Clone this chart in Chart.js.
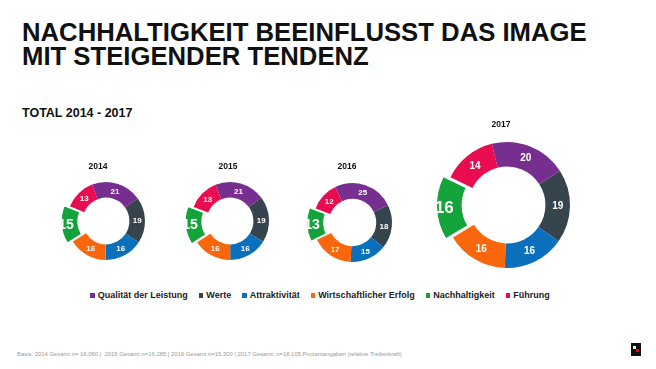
<!DOCTYPE html>
<html>
<head>
<meta charset="utf-8">
<script src="https://cdn.jsdelivr.net/npm/chart.js@4.4.1/dist/chart.umd.min.js"></script>
<style>
  html, body { margin: 0; padding: 0; background: #fff; }
  body { width: 656px; height: 369px; position: relative; overflow: hidden;
         font-family: "Liberation Sans", Arial, sans-serif; color: #111; }
  .abs { position: absolute; }
  #title { left: 22px; top: 21px; font-size: 25.7px; line-height: 23.5px; font-weight: bold; white-space: nowrap; }
  #subtitle { left: 22px; top: 107px; font-size: 12.5px; line-height: 12.5px; font-weight: bold; }
  .year { width: 40px; margin-left: -20px; text-align: center; font-size: 8.5px; line-height: 9px; font-weight: bold; }
  #legend { left: 0; top: 291px; width: 640px; display: flex; justify-content: center; gap: 11px;
            font-size: 9px; font-weight: bold; line-height: 9px; color: #222; }
  #legend span.item { display: flex; align-items: center; white-space: nowrap; }
  #legend span.box { width: 4.5px; height: 4.5px; margin-right: 3px; display: inline-block; }
  #footer { left: 17px; top: 351px; font-size: 5.9px; color: #999; white-space: nowrap; }
  #logo { left: 631px; top: 343px; width: 10px; height: 13px; background: #111; }
  #logo i { position: absolute; display: block; }
</style>
</head>
<body>
<div id="title" class="abs">NACHHALTIGKEIT BEEINFLUSST DAS IMAGE<br>MIT STEIGENDER TENDENZ</div>
<div id="subtitle" class="abs">TOTAL 2014 - 2017</div>
<div id="charts"></div>
<div id="legend" class="abs"></div>
<div id="footer" class="abs">Basis: 2014 Gesamt n= 16.060 |&nbsp; 2015 Gesamt n=16.285 | 2016 Gesamt n=15.300 | 2017 Gesamt: n=18.105 Prozentangaben (relative Treiberkraft)</div>
<div id="logo" class="abs"><i style="left:2px;top:3px;width:3px;height:3px;background:#eee"></i><i style="left:5px;top:6px;width:3px;height:3px;background:#e30613"></i></div>

<script>
const categories = ['Qualität der Leistung', 'Werte', 'Attraktivität', 'Wirtschaftlicher Erfolg', 'Nachhaltigkeit', 'Führung'];
const years = ['2014', '2015', '2016', '2017'];
const values2014 = [21, 19, 16, 16, 15, 13];
const values2015 = [21, 19, 16, 16, 15, 13];
const values2016 = [25, 18, 15, 17, 13, 12];
const values2017 = [20, 19, 16, 16, 16, 14];
const colours = ['#772f8f', '#36444d', '#0a70bb', '#f9660c', '#14a33b', '#e90c51'];
const highlight = 'Nachhaltigkeit';

// where each donut sits on the slide
const layouts = [
    { values: values2014, cx: 106, cy: 221, r: 39, pull: 9, rot: -21, cut: '60%', size: 8, big: 14, tx: 98, ty: 162 },
    { values: values2015, cx: 230, cy: 221, r: 39, pull: 9, rot: -22, cut: '60%', size: 8, big: 14, tx: 228, ty: 162 },
    { values: values2016, cx: 352, cy: 222, r: 39.5, pull: 9, rot: -26, cut: '60%', size: 8, big: 14, tx: 347, ty: 162 },
    { values: values2017, cx: 507, cy: 205, r: 63, pull: 12, rot: -14, cut: '61%', size: 10, big: 17, tx: 501, ty: 120 }
];

const sliceLabels = {
    id: 'sliceLabels',
    afterDatasetsDraw(chart, args, opts) {
        const ctx = chart.ctx;
        const meta = chart.getDatasetMeta(0);
        const data = chart.data.datasets[0].data;
        ctx.save();
        ctx.fillStyle = '#fff';
        ctx.textAlign = 'center';
        ctx.textBaseline = 'middle';
        meta.data.forEach((arc, i) => {
            const p = arc.tooltipPosition();
            const isBig = chart.data.labels[i] === highlight;
            ctx.font = 'bold ' + (isBig ? opts.big : opts.size) + 'px "Liberation Sans", Arial, sans-serif';
            ctx.fillText(data[i], p.x, p.y + 0.5);
        });
        ctx.restore();
    }
};

const holder = document.getElementById('charts');
layouts.forEach((l, n) => {
    const yr = document.createElement('div');
    yr.className = 'abs year';
    yr.style.left = l.tx + 'px';
    yr.style.top = l.ty + 'px';
    yr.textContent = years[n];
    document.body.appendChild(yr);

    const S = Math.round(2 * (l.r + l.pull) + 6);
    const cv = document.createElement('canvas');
    cv.width = S;
    cv.height = S;
    cv.className = 'abs';
    cv.style.left = (l.cx - S / 2) + 'px';
    cv.style.top = (l.cy - S / 2) + 'px';
    holder.appendChild(cv);

    new Chart(cv.getContext('2d'), {
        type: 'doughnut',
        data: {
            labels: categories,
            datasets: [{
                data: l.values,
                backgroundColor: colours,
                borderWidth: 0,
                offset: categories.map(c => c === highlight ? l.pull * 2 : 0),
                hoverOffset: 0
            }]
        },
        options: {
            responsive: false,
            animation: false,
            events: [],
            radius: l.r,
            cutout: l.cut,
            rotation: l.rot,
            layout: { padding: 0 },
            plugins: {
                legend: { display: false },
                tooltip: { enabled: false },
                sliceLabels: { size: l.size, big: l.big }
            }
        },
        plugins: [sliceLabels]
    });
});

const legend = document.getElementById('legend');
categories.forEach((c, i) => {
    const item = document.createElement('span');
    item.className = 'item';
    item.innerHTML = '<span class="box" style="background:' + colours[i] + '"></span>' + c;
    legend.appendChild(item);
});
</script>
</body>
</html>
